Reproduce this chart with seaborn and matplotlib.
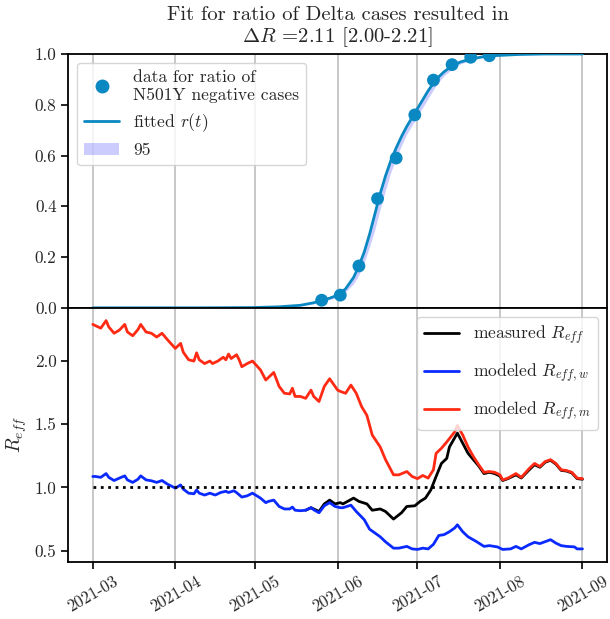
import numpy as np
import pandas as pd
import matplotlib
matplotlib.use("Agg")
import matplotlib.pyplot as plt
import matplotlib.dates as mdates
from matplotlib.patches import Patch
from matplotlib.lines import Line2D
import seaborn as sns

sns.set_style("white")
plt.rcParams['font.family'] = ['cmr10', 'DejaVu Serif']
plt.rcParams['mathtext.fontset'] = 'cm'
plt.rcParams['axes.formatter.use_mathtext'] = True
plt.rcParams['axes.unicode_minus'] = False

START = pd.Timestamp("2021-03-01")

# ---- top panel data (days after 2021-03-01) ----
pt_days = [86, 93, 100, 107, 114, 121, 128, 135, 142, 149]
pt_ratio = [0.03, 0.05, 0.165, 0.43, 0.59, 0.76, 0.897, 0.958, 0.987, 0.993]

fit_days = [0, 40, 60, 70, 78, 83, 86, 89, 92, 95, 98, 100, 102, 104, 106, 108, 110, 112,
            114, 116, 118, 120, 122, 124, 126, 128, 130, 132, 135, 138, 142, 146, 150, 160, 170, 184]
fit_r = [0, 0, .001, .004, .01, .02, .03, .038, .05, .075, .12, .165, .22, .29, .37, .45, .52, .58,
         .63, .675, .715, .75, .785, .82, .855, .885, .91, .93, .953, .968, .98, .988, .993, .998, 1, 1]
fit_lo = [0, 0, .001, .003, .008, .016, .025, .032, .043, .063, .095, .13, .18, .24, .31, .39, .465, .535,
          .59, .64, .685, .72, .755, .79, .825, .86, .89, .915, .94, .96, .975, .985, .991, .997, .999, 1]
fit_hi = [0, 0, .001, .004, .011, .021, .032, .04, .053, .08, .128, .175, .232, .305, .385, .465, .535, .59,
          .64, .685, .722, .757, .792, .827, .862, .89, .915, .934, .956, .97, .982, .989, .994, .998, 1, 1]

# ---- bottom panel data ----
red_days = [0, 1, 3, 5, 6, 8, 10, 12, 13, 15, 17, 18, 20, 22, 24, 26, 28, 31, 33, 34, 36, 38, 39, 40,
            42, 44, 45, 47, 49, 50, 51, 52, 54, 55, 56, 58, 60, 63, 65, 66, 68, 70, 72, 74, 75, 76, 78,
            80, 82, 83, 85, 87, 89, 91, 92, 93, 95, 97, 99, 101, 103, 105, 108, 110, 113, 115, 118, 120,
            122, 124, 126, 128, 129, 131, 133, 136, 137, 139, 141, 143, 145, 147, 149, 151, 153, 154,
            156, 159, 161, 164, 166, 168, 170, 172, 174, 176, 178, 180, 182, 184]
red_r = [2.29, 2.28, 2.26, 2.32, 2.27, 2.22, 2.245, 2.29, 2.23, 2.20, 2.25, 2.29, 2.23, 2.22, 2.19,
         2.22, 2.17, 2.10, 2.14, 2.07, 2.01, 2.00, 2.065, 2.01, 1.98, 2.00, 1.98, 2.00, 2.03, 2.01,
         2.055, 2.02, 2.05, 2.01, 1.955, 1.98, 2.00, 1.93, 1.85, 1.87, 1.91, 1.80, 1.745, 1.74, 1.785,
         1.72, 1.72, 1.705, 1.77, 1.72, 1.68, 1.80, 1.86, 1.80, 1.77, 1.76, 1.745, 1.81, 1.745, 1.64,
         1.57, 1.415, 1.32, 1.22, 1.10, 1.10, 1.126, 1.087, 1.07, 1.095, 1.074, 1.14, 1.27, 1.31, 1.36,
         1.44, 1.49, 1.415, 1.32, 1.245, 1.18, 1.12, 1.126, 1.12, 1.10, 1.06, 1.074, 1.11, 1.08, 1.15,
         1.19, 1.166, 1.205, 1.22, 1.19, 1.14, 1.134, 1.12, 1.074, 1.07]

blue_days = [0, 1, 3, 5, 6, 8, 10, 12, 13, 15, 17, 18, 20, 22, 24, 26, 28, 31, 33, 34, 36, 38, 39, 40,
             42, 44, 46, 48, 50, 51, 53, 54, 56, 58, 60, 63, 65, 66, 68, 70, 72, 74, 75, 76, 78, 80, 82,
             83, 85, 87, 89, 91, 93, 94, 97, 99, 102, 104, 108, 110, 113, 115, 118, 120, 122, 124, 126,
             128, 130, 132, 134, 136, 137, 139, 141, 144, 147, 149, 152, 154, 157, 159, 161, 164, 166,
             168, 172, 174, 176, 178, 181, 182, 184]
blue_r = [1.087, 1.087, 1.08, 1.11, 1.08, 1.055, 1.074, 1.092, 1.06, 1.04, 1.066, 1.092, 1.06, 1.053,
          1.04, 1.055, 1.027, 0.995, 1.02, 0.987, 0.955, 0.95, 0.98, 0.955, 0.94, 0.955, 0.94, 0.96,
          0.97, 0.96, 0.974, 0.96, 0.924, 0.934, 0.955, 0.916, 0.88, 0.89, 0.90, 0.85, 0.83, 0.83, 0.845,
          0.82, 0.816, 0.82, 0.84, 0.824, 0.80, 0.855, 0.88, 0.85, 0.84, 0.84, 0.86, 0.81, 0.745, 0.67,
          0.61, 0.57, 0.52, 0.52, 0.534, 0.514, 0.51, 0.52, 0.514, 0.55, 0.62, 0.627, 0.65, 0.68, 0.705,
          0.65, 0.61, 0.574, 0.534, 0.54, 0.53, 0.51, 0.514, 0.534, 0.514, 0.548, 0.566, 0.556, 0.587,
          0.56, 0.54, 0.534, 0.53, 0.514, 0.514]

black_days = [80, 82, 83, 85, 87, 89, 91, 93, 94, 98, 100, 103, 105, 108, 110, 113, 116, 118, 121, 123,
              125, 127, 129, 131, 133, 134, 137, 139, 141, 143, 145, 147, 149, 151, 153, 154, 156, 159,
              161, 164, 166, 168, 170, 172, 174, 176, 178, 180, 182, 184]
black_r = [0.82, 0.84, 0.83, 0.81, 0.87, 0.90, 0.87, 0.88, 0.87, 0.916, 0.89, 0.87, 0.82, 0.83, 0.81,
           0.75, 0.80, 0.85, 0.855, 0.89, 0.916, 0.98, 1.087, 1.19, 1.23, 1.32, 1.43, 1.35, 1.27, 1.22,
           1.17, 1.11, 1.12, 1.11, 1.09, 1.055, 1.07, 1.10, 1.075, 1.14, 1.18, 1.16, 1.20, 1.215, 1.185,
           1.135, 1.13, 1.115, 1.07, 1.065]

ref_days = [0, 183]
ref_r = [1.0, 1.0]


def to_dates(days):
    return START + pd.to_timedelta(np.asarray(days), unit="D")


C_FIT = "#0A88C2"
C_RED = "#FF2A14"
C_BLUE = "#0A2AFF"

fig, (ax1, ax2) = plt.subplots(2, 1, sharex=True, figsize=(6.1, 6.19), dpi=100)
fig.subplots_adjust(left=0.112, right=0.995, top=0.9128, bottom=0.0926, hspace=0)

# top panel
fd = to_dates(fit_days)
ax1.fill_between(fd, fit_lo, fit_hi, color="blue", alpha=0.2, lw=0, zorder=2)
sns.lineplot(x=fd, y=fit_r, ax=ax1, color=C_FIT, lw=2.0, zorder=3)
sns.scatterplot(x=to_dates(pt_days), y=pt_ratio, ax=ax1, color=C_FIT, s=85,
                edgecolor="none", zorder=4)
ax1.set_ylim(0, 1)
ax1.set_yticks([0, 0.2, 0.4, 0.6, 0.8, 1.0])
ax1.set_yticklabels(["0.0", "0.2", "0.4", "0.6", "0.8", "1.0"])
h1 = [Line2D([], [], ls="none", marker="o", ms=9, color=C_FIT),
      Line2D([], [], color=C_FIT, lw=2.0),
      Patch(facecolor="blue", alpha=0.2, lw=0)]
l1 = ["data for ratio of\nN501Y negative cases", r"fitted $r(t)$", "95"]
ax1.legend(h1, l1, loc="upper left", fontsize=12.6, framealpha=0.8, borderaxespad=0.5,
           labelspacing=0.5, handlelength=2.0)
ax1.set_title("Fit for ratio of Delta cases resulted in\n" + r"$\Delta R$ =2.11 [2.00-2.21]",
              fontsize=14.9, pad=8.2, linespacing=1.1)

# bottom panel
sns.lineplot(x=to_dates(black_days), y=black_r, ax=ax2, color="black", lw=2.0,
             label=r"measured $R_{eff}$")
sns.lineplot(x=to_dates(blue_days), y=blue_r, ax=ax2, color=C_BLUE, lw=2.0,
             label=r"modeled $R_{eff,w}$")
sns.lineplot(x=to_dates(red_days), y=red_r, ax=ax2, color=C_RED, lw=2.0,
             label=r"modeled $R_{eff,m}$")
ax2.plot(to_dates(ref_days), ref_r, ls=":", color="black", lw=2.0)
ax2.set_ylim(0.413, 2.421)
ax2.set_yticks([0.5, 1.0, 1.5, 2.0])
ax2.set_yticklabels(["0.5", "1.0", "1.5", "2.0"])
ax2.set_ylabel(r"$R_{eff}$", fontsize=14)
ax2.legend(loc="upper right", fontsize=12.6, framealpha=0.8, borderaxespad=0.5,
           labelspacing=0.85, handlelength=2.0)

xmin = START - pd.Timedelta(days=9.2)
xmax = START + pd.Timedelta(days=193.2)
ax2.set_xlim(xmin, xmax)
ax2.xaxis.set_major_locator(mdates.MonthLocator())
ax2.xaxis.set_major_formatter(mdates.DateFormatter("%Y-%m"))

for ax in (ax1, ax2):
    ax.grid(axis="x", color="#c4c4c4", lw=1.3)
    ax.grid(axis="y", visible=False)
    ax.tick_params(axis="both", which="major", direction="out", length=5, width=1.2,
                   labelsize=12.3, left=True, bottom=True, color="black")
    for sp in ax.spines.values():
        sp.set_color("black")
        sp.set_linewidth(1.3)
    ax.set_xlabel("")
ax1.tick_params(axis="x", bottom=False, labelbottom=False)
ax2.tick_params(axis="x", labelsize=12)
for lab in ax2.get_xticklabels():
    lab.set_rotation(30)
    lab.set_ha("center")

fig.savefig("out.png", dpi=100)
